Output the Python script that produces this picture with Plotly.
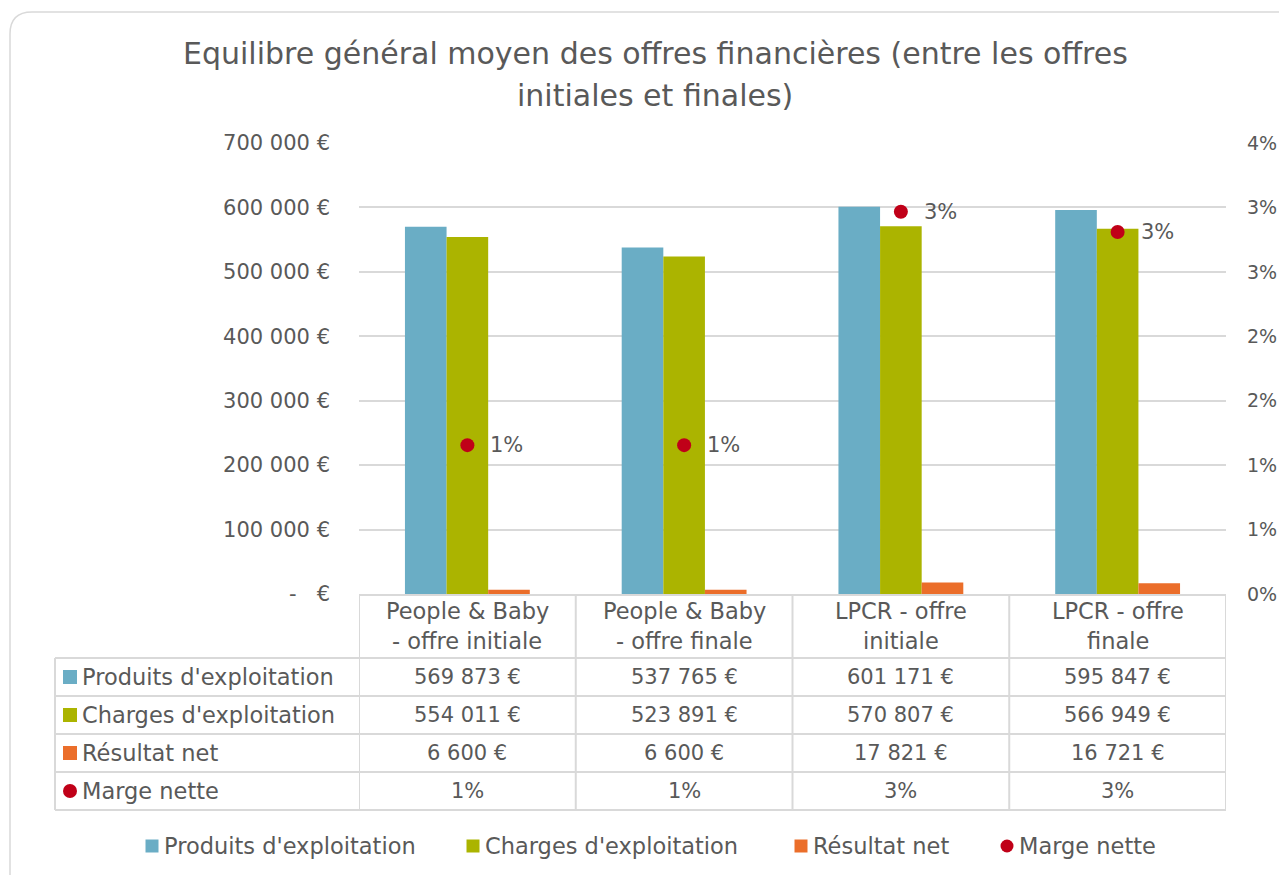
import plotly.graph_objects as go

# ---------------- data ----------------
categories = ["People & Baby - offre initiale", "People & Baby - offre finale",
              "LPCR - offre initiale", "LPCR - offre finale"]
category_labels = ["People & Baby<br>- offre initiale", "People & Baby<br>- offre finale",
                   "LPCR - offre<br>initiale", "LPCR - offre<br>finale"]
produits = [569873, 537765, 601171, 595847]
charges = [554011, 523891, 570807, 566949]
resultat = [6600, 6600, 17821, 16721]
marge = [0.0132, 0.0132, 0.0339, 0.0321]
left_ticks = [0, 100000, 200000, 300000, 400000, 500000, 600000, 700000]
right_max = 0.04
right_steps = 7

title_lines = ["Equilibre général moyen des offres financières (entre les offres",
               "initiales et finales)"]
series_names = ["Produits d'exploitation", "Charges d'exploitation", "Résultat net", "Marge nette"]
colors = ["#6AADC5", "#ABB400", "#EB6E2A", "#C00018"]

TXT = "#595959"
GRID = "#D9D9D9"
FONT = "DejaVu Sans"
FS_NUM = 21     # numbers
FS_TXT = 22.5   # words
FS_TITLE = 30

# ---------------- layout helpers (reference pixels -> paper) ----------------
OFF = 8                      # browser body margin
W, H = 1287 - OFF, 875 - OFF
L, R, T, B = 359, 1226, 143, 594
def px_x(px): return (px - L) / (R - L)
def px_y(py): return (B - py) / (B - T)

def eur(v):
    return f"{v:,}".replace(",", " ") + " €"

def pct(v):
    return f"{round(v * 100)}%"

fig = go.Figure()
for name, vals, col in zip(series_names[:3], [produits, charges, resultat], colors[:3]):
    fig.add_trace(go.Bar(x=categories, y=vals, name=name, marker_color=col,
                         marker_line_width=0, yaxis="y"))

fig.add_trace(go.Scatter(x=categories, y=marge, name=series_names[3], mode="markers",
                         marker=dict(color=colors[3], size=14), yaxis="y2"))

right_vals = [right_max * k / right_steps for k in range(right_steps + 1)]

fig.update_layout(
    width=W, height=H,
    margin=dict(l=L - OFF, r=W - (R - OFF), t=T - OFF, b=H - (B - OFF)),
    paper_bgcolor="white", plot_bgcolor="white",
    font=dict(family=FONT, color=TXT, size=FS_NUM),
    barmode="group", bargap=0.424, bargroupgap=0,
    showlegend=False,
    xaxis=dict(range=[-0.5, 3.5], showticklabels=False, showgrid=False, zeroline=False,
               showline=True, linecolor=GRID, linewidth=2, ticks="", automargin=False),
    yaxis=dict(range=[0, 700000], tickvals=left_ticks,
               ticktext=[eur(v) if v else "-   €" for v in left_ticks],
               showgrid=True, gridcolor=GRID, gridwidth=2, zeroline=False, automargin=False,
               ticklabelstandoff=28, tickfont=dict(size=FS_NUM, color=TXT)),
    yaxis2=dict(range=[0, right_max], overlaying="y", side="right", tickvals=right_vals,
                ticktext=[pct(v) for v in right_vals], showgrid=False, zeroline=False,
                automargin=False, ticklabelstandoff=20, tickfont=dict(size=19, color=TXT)),
)

shapes = []
annotations = []
line = dict(color=GRID, width=2)

# title
for py, txt in zip([53, 96], title_lines):
    annotations.append(dict(xref="paper", yref="paper", x=px_x(655), y=px_y(py), text=txt,
                            showarrow=False, xanchor="center", yanchor="middle",
                            font=dict(size=FS_TITLE, color=TXT)))

# outer chart border with rounded corner
shapes.append(dict(type="path", xref="paper", yref="paper",
                   path=f"M {px_x(10)},{px_y(875)} L {px_x(10)},{px_y(34)} "
                        f"Q {px_x(10)},{px_y(12)} {px_x(32)},{px_y(12)} L {px_x(1287)},{px_y(12)}",
                   line=dict(color=GRID, width=1.5)))
# table horizontal lines
for py in [658, 696, 734, 772, 810]:
    shapes.append(dict(type="line", xref="paper", yref="paper", x0=px_x(55), x1=1,
                       y0=px_y(py), y1=px_y(py), line=line))
shapes.append(dict(type="line", xref="paper", yref="paper", x0=px_x(55), x1=px_x(55),
                   y0=px_y(658), y1=px_y(810), line=line))
for i in range(len(categories) + 1):
    shapes.append(dict(type="line", xref="x", yref="paper", x0=i - 0.5, x1=i - 0.5,
                       y0=0, y1=px_y(810), line=line))

def key(kind, xc, yc, col, half=7):
    shapes.append(dict(type="rect" if kind == "sq" else "circle", xref="paper", yref="paper",
                       x0=px_x(xc - half), x1=px_x(xc + half),
                       y0=px_y(yc + half), y1=px_y(yc - half),
                       fillcolor=col, line=dict(width=0)))

# table rows
row_centers = [677, 715, 753, 791]
row_values = [[eur(v) for v in produits], [eur(v) for v in charges],
              [eur(v) for v in resultat], [pct(v) for v in marge]]
for r, (cy, name, col, vals) in enumerate(zip(row_centers, series_names, colors, row_values)):
    key("sq" if r < 3 else "ci", 70, cy, col)
    annotations.append(dict(xref="paper", yref="paper", x=px_x(80), y=px_y(cy), text=name,
                            showarrow=False, xanchor="left", yanchor="middle",
                            font=dict(size=FS_TXT, color=TXT)))
    for i, v in enumerate(vals):
        annotations.append(dict(xref="x", yref="paper", x=i, y=px_y(cy), text=v,
                                showarrow=False, xanchor="center", yanchor="middle",
                                font=dict(size=FS_NUM, color=TXT)))
# table header
for i, lab in enumerate(category_labels):
    for py, part in zip([611, 641], lab.split("<br>")):
        annotations.append(dict(xref="x", yref="paper", x=i, y=px_y(py), text=part,
                                showarrow=False, xanchor="center", yanchor="middle",
                                font=dict(size=FS_TXT, color=TXT)))

# data labels for Marge nette
for i, v in enumerate(marge):
    annotations.append(dict(xref="x", yref="y2", x=i, y=v, text=pct(v), showarrow=False,
                            xanchor="left", yanchor="middle", xshift=21,
                            font=dict(size=FS_NUM, color=TXT)))

# legend (manual, Excel-like)
legend_keys = [152, 473, 801, 1007]
for k, (xk, name, col) in enumerate(zip(legend_keys, series_names, colors)):
    key("sq" if k < 3 else "ci", xk, 846, col, half=6.5)
    annotations.append(dict(xref="paper", yref="paper", x=px_x(xk + 10), y=px_y(846), text=name,
                            showarrow=False, xanchor="left", yanchor="middle",
                            font=dict(size=FS_TXT, color=TXT)))

fig.update_layout(shapes=shapes, annotations=annotations)
fig.write_html("out.html")
